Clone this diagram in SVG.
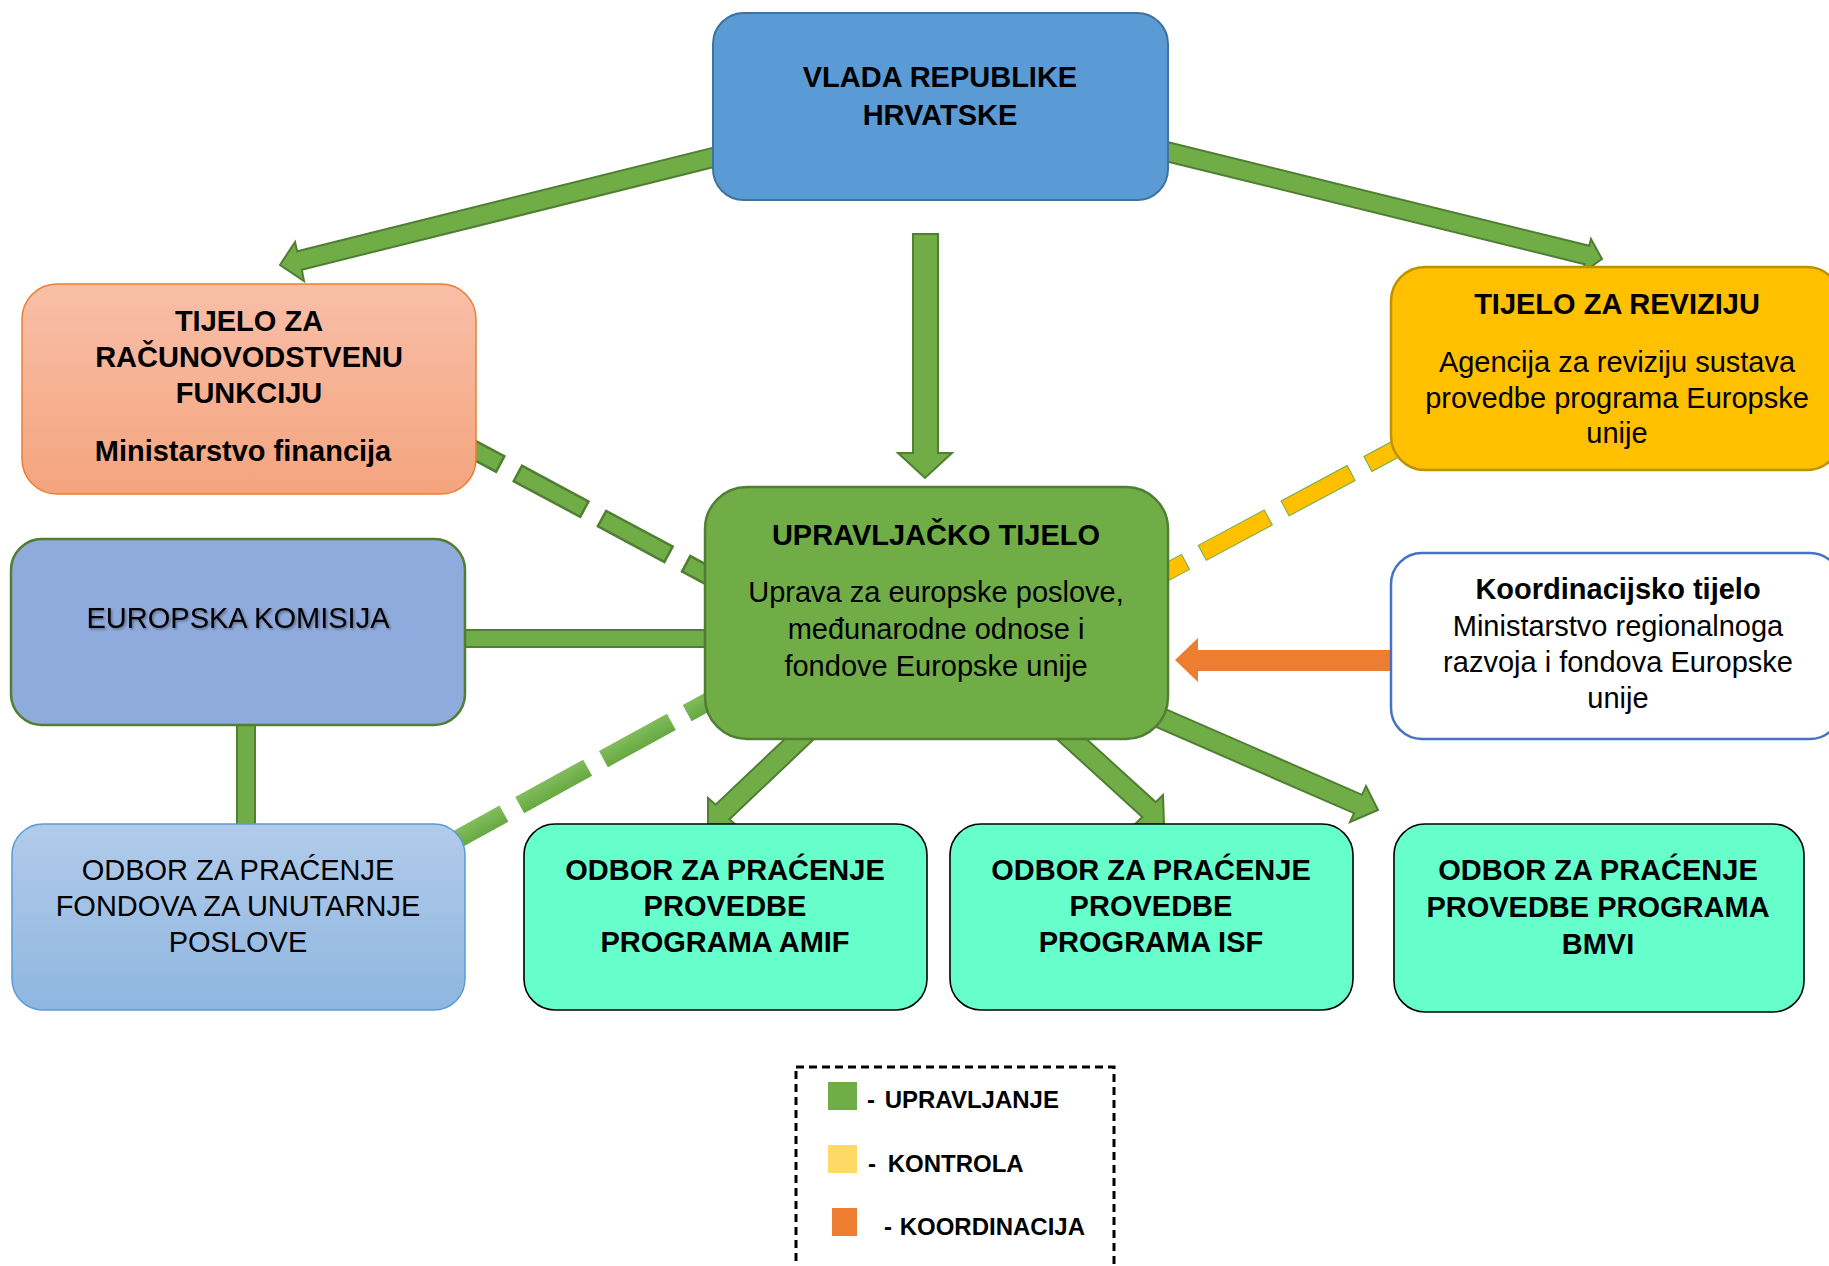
<svg xmlns="http://www.w3.org/2000/svg" width="1829" height="1266" viewBox="0 0 1829 1266">
<defs>
<style>
.t{font-family:"Liberation Sans",Arial,sans-serif;font-size:29px;fill:#000;text-anchor:middle}
.b{font-weight:bold}
.arr{fill:#70AD47;stroke:#507E32;stroke-width:2;stroke-linejoin:miter}
.odb{fill:#66FFCC;stroke:#000;stroke-width:1.6}
.lg{font-family:"Liberation Sans",Arial,sans-serif;font-size:24px;font-weight:bold;fill:#000}
</style>
<linearGradient id="gTR" x1="0" y1="0" x2="0" y2="1">
<stop offset="0" stop-color="#F8BFA8"/><stop offset="1" stop-color="#F4A47E"/>
</linearGradient>
<linearGradient id="gOF" x1="0" y1="0" x2="0" y2="1">
<stop offset="0" stop-color="#B2CBEA"/><stop offset="1" stop-color="#8EB6E0"/>
</linearGradient>
<linearGradient id="gDash" gradientUnits="userSpaceOnUse" x1="515.2" y1="796.6" x2="524.2" y2="812.8">
<stop offset="0" stop-color="#83BD5E"/><stop offset="1" stop-color="#68A942"/>
</linearGradient>
<filter id="sh" x="-5%" y="-20%" width="110%" height="140%">
<feDropShadow dx="1.5" dy="1.5" stdDeviation="1" flood-color="#000" flood-opacity="0.35"/>
</filter>
</defs>
<rect width="1829" height="1266" fill="#fff"/>

<g id="connectors">
<!-- dashed green: racunovodstvo -> upravljacko -->
<line x1="432.6" y1="427.7" x2="722" y2="583" stroke="#507E32" stroke-width="20" stroke-dasharray="78 17.5"/>
<line x1="432.6" y1="427.7" x2="722" y2="583" stroke="#70AD47" stroke-width="15" stroke-dasharray="73 22.5" stroke-dashoffset="93"/>
<!-- dashed green gradient: odbor fondova -> upravljacko -->
<line x1="436" y1="851" x2="722" y2="694" stroke="url(#gDash)" stroke-width="18.5" stroke-dasharray="77.5 18"/>
<!-- dashed yellow: revizija -> upravljacko -->
<line x1="1119" y1="597.6" x2="1420" y2="436" stroke="#70AD47" stroke-width="18" stroke-dasharray="76 18"/>
<line x1="1119" y1="597.6" x2="1420" y2="436" stroke="#FFC000" stroke-width="16" stroke-dasharray="74 20" stroke-dashoffset="93"/>
<!-- EK - upravljacko -->
<rect x="460" y="630" width="250" height="17" fill="#70AD47" stroke="#507E32" stroke-width="2"/>
<!-- EK - odbor fondova -->
<rect x="237" y="720" width="18" height="110" fill="#70AD47" stroke="#507E32" stroke-width="2"/>
<!-- vlada -> racunovodstvo -->
<polygon class="arr" points="720.4,145.9 297.2,251.3 295,242 280,265 304,281 301.8,269.7 725,164.3"/>
<!-- vlada -> revizija -->
<polygon class="arr" points="1160.3,140.3 1589.3,245.8 1591,239 1602,259 1582,273 1584.7,264.2 1155.7,158.7"/>
<!-- vlada -> upravljacko -->
<polygon class="arr" points="913,234 938,234 938,453 952,453 925,478 898,453 913,453"/>
<!-- upravljacko -> AMIF -->
<polygon class="arr" points="807.1,717.9 715.6,804.7 708,798 708,826 737,826 729.4,819.3 820.9,732.5"/>
<!-- upravljacko -> ISF -->
<polygon class="arr" points="1063.4,718.1 1155.7,802.1 1163,795 1164,825 1135,824 1142.3,816.9 1050,732.9"/>
<!-- upravljacko -> BMVI -->
<polygon class="arr" points="1147.7,701.3 1362,794.8 1366,786 1378,810 1350,822 1354,813.2 1139.7,719.7"/>
<!-- koordinacijsko -> upravljacko -->
<polygon points="1400,650 1198,650 1198,638 1175,660 1198,682 1198,671 1400,671" fill="#ED7D31"/>
</g>

<g id="vlada">
<rect x="713" y="13" width="455" height="187" rx="31" fill="#5B9BD5" stroke="#41719C" stroke-width="2"/>
<text class="t b" x="940" y="87">VLADA REPUBLIKE</text>
<text class="t b" x="940" y="125">HRVATSKE</text>
</g>

<g id="racunovodstvo">
<rect x="22" y="284" width="454" height="210" rx="35" fill="url(#gTR)" stroke="#ED7D31" stroke-width="1.5"/>
<text class="t b" x="249" y="331">TIJELO ZA</text>
<text class="t b" x="249" y="367">RAČUNOVODSTVENU</text>
<text class="t b" x="249" y="403">FUNKCIJU</text>
<text class="t b" x="243" y="461">Ministarstvo financija</text>
</g>

<g id="revizija">
<rect x="1391" y="267" width="450" height="203" rx="34" fill="#FFC000" stroke="#BF9000" stroke-width="2.5"/>
<text class="t b" x="1617" y="314">TIJELO ZA REVIZIJU</text>
<text class="t" x="1617" y="372">Agencija za reviziju sustava</text>
<text class="t" x="1617" y="408">provedbe programa Europske</text>
<text class="t" x="1617" y="443">unije</text>
</g>

<g id="upravljacko">
<rect x="705" y="487" width="463" height="252" rx="42" fill="#70AD47" stroke="#507E32" stroke-width="2.5"/>
<text class="t b" x="936" y="545">UPRAVLJAČKO TIJELO</text>
<text class="t" x="936" y="602">Uprava za europske poslove,</text>
<text class="t" x="936" y="639">međunarodne odnose i</text>
<text class="t" x="936" y="676">fondove Europske unije</text>
</g>

<g id="komisija">
<rect x="11" y="539" width="454" height="186" rx="31" fill="#8FAADC" stroke="#507E32" stroke-width="2.5"/>
<text class="t" x="238" y="628" filter="url(#sh)">EUROPSKA KOMISIJA</text>
</g>

<g id="koordinacijsko">
<rect x="1391" y="553" width="450" height="186" rx="31" fill="#fff" stroke="#4472C4" stroke-width="2.5"/>
<text class="t b" x="1618" y="599">Koordinacijsko tijelo</text>
<text class="t" x="1618" y="636">Ministarstvo regionalnoga</text>
<text class="t" x="1618" y="672">razvoja i fondova Europske</text>
<text class="t" x="1618" y="708">unije</text>
</g>

<g id="odbor-fondova">
<rect x="12" y="824" width="453" height="186" rx="31" fill="url(#gOF)" stroke="#5B9BD5" stroke-width="1.5"/>
<text class="t" x="238" y="880">ODBOR ZA PRAĆENJE</text>
<text class="t" x="238" y="916">FONDOVA ZA UNUTARNJE</text>
<text class="t" x="238" y="952">POSLOVE</text>
</g>

<g id="odbor-amif">
<rect class="odb" x="524" y="824" width="403" height="186" rx="31"/>
<text class="t b" x="725" y="880">ODBOR ZA PRAĆENJE</text>
<text class="t b" x="725" y="916">PROVEDBE</text>
<text class="t b" x="725" y="952">PROGRAMA AMIF</text>
</g>

<g id="odbor-isf">
<rect class="odb" x="950" y="824" width="403" height="186" rx="31"/>
<text class="t b" x="1151" y="880">ODBOR ZA PRAĆENJE</text>
<text class="t b" x="1151" y="916">PROVEDBE</text>
<text class="t b" x="1151" y="952">PROGRAMA ISF</text>
</g>

<g id="odbor-bmvi">
<rect class="odb" x="1394" y="824" width="410" height="188" rx="31"/>
<text class="t b" x="1598" y="880">ODBOR ZA PRAĆENJE</text>
<text class="t b" x="1598" y="917">PROVEDBE PROGRAMA</text>
<text class="t b" x="1598" y="954">BMVI</text>
</g>

<g id="legenda">
<rect x="796" y="1067" width="318" height="260" fill="none" stroke="#000" stroke-width="3" stroke-dasharray="8 5"/>
<rect x="828" y="1082" width="29" height="28" fill="#70AD47"/>
<rect x="828" y="1145" width="29" height="28" fill="#FFD966"/>
<rect x="832" y="1208" width="25" height="28" fill="#ED7D31"/>
<text class="lg" x="867" y="1108">- <tspan dx="3">UPRAVLJANJE</tspan></text>
<text class="lg" x="868" y="1172">- <tspan dx="5">KONTROLA</tspan></text>
<text class="lg" x="884" y="1235">- <tspan dx="1">KOORDINACIJA</tspan></text>
</g>
</svg>
